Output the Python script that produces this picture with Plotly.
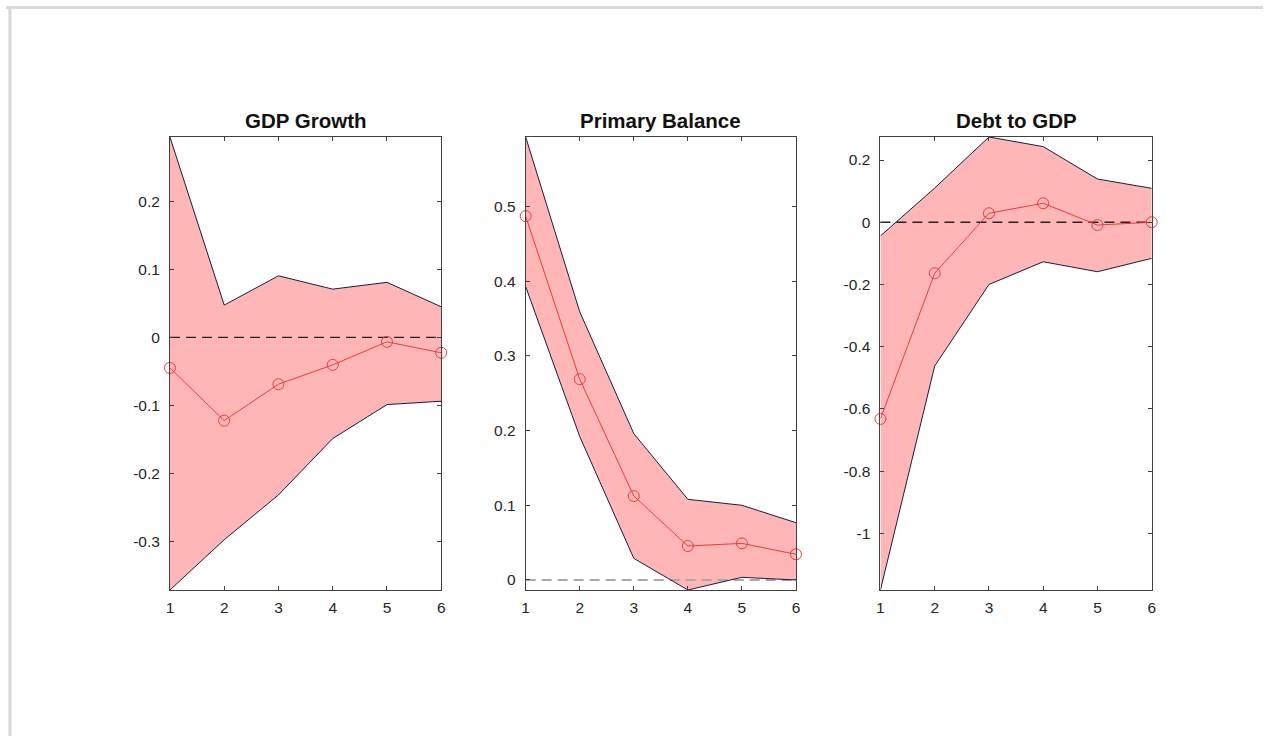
import plotly.graph_objects as go

# ---------------- data ----------------
horizon = [1, 2, 3, 4, 5, 6]
titles = ["GDP Growth", "Primary Balance", "Debt to GDP"]

gdp_mean = [-0.045, -0.1226, -0.069, -0.0405, -0.0066, -0.0227]
gdp_upper = [0.295, 0.0475, 0.0906, 0.071, 0.081, 0.045]
gdp_lower = [-0.372, -0.298, -0.232, -0.149, -0.099, -0.094]

pb_mean = [0.487, 0.2687, 0.1124, 0.0455, 0.049, 0.0344]
pb_upper = [0.593, 0.359, 0.196, 0.108, 0.100, 0.0767]
pb_lower = [0.3927, 0.192, 0.029, -0.0134, 0.0036, 0.0]

debt_mean = [-0.632, -0.164, 0.029, 0.061, -0.009, 0.0]
debt_upper = [-0.044, 0.11, 0.274, 0.243, 0.139, 0.109]
debt_lower = [-1.182, -0.462, -0.2, -0.127, -0.159, -0.116]

gdp_ticks = [-0.3, -0.2, -0.1, 0, 0.1, 0.2]
gdp_ticklabels = ["-0.3", "-0.2", "-0.1", "0", "0.1", "0.2"]
pb_ticks = [0, 0.1, 0.2, 0.3, 0.4, 0.5]
pb_ticklabels = ["0", "0.1", "0.2", "0.3", "0.4", "0.5"]
debt_ticks = [-1, -0.8, -0.6, -0.4, -0.2, 0, 0.2]
debt_ticklabels = ["-1", "-0.8", "-0.6", "-0.4", "-0.2", "0", "0.2"]
x_ticklabels = ["1", "2", "3", "4", "5", "6"]

panels = [
    (gdp_mean, gdp_upper, gdp_lower, gdp_ticks, gdp_ticklabels, "#222222", 1.2),
    (pb_mean, pb_upper, pb_lower, pb_ticks, pb_ticklabels, "#a8a8a8", 2.0),
    (debt_mean, debt_upper, debt_lower, debt_ticks, debt_ticklabels, "#222222", 1.4),
]

# ---------------- layout geometry (pixels) ----------------
W, H = 1267, 736
x_px = [(167, 440), (525, 797), (882, 1155)]
y_px = (137, 590)

FILL = "rgb(255,182,182)"
EDGE = "#1c1c3a"
RED = "rgb(232,60,60)"
AXC = "#404040"
FONT = "Liberation Sans, Arial, Helvetica, sans-serif"

fig = go.Figure()

for i, (mean, up, lo, yt, ytl, zc, zw) in enumerate(panels):
    xa = "x" if i == 0 else f"x{i+1}"
    ya = "y" if i == 0 else f"y{i+1}"
    # band fill
    fig.add_trace(go.Scatter(
        x=horizon + horizon[::-1], y=up + lo[::-1],
        fill="toself", fillcolor=FILL, mode="none",
        xaxis=xa, yaxis=ya, showlegend=False, hoverinfo="skip"))
    # zero line
    fig.add_trace(go.Scatter(
        x=[horizon[0], horizon[-1]], y=[0, 0], mode="lines",
        line=dict(color=zc, width=zw, dash="10px,6px"),
        xaxis=xa, yaxis=ya, showlegend=False, hoverinfo="skip"))
    # band edges
    for b in (up, lo):
        fig.add_trace(go.Scatter(
            x=horizon, y=b, mode="lines",
            line=dict(color=EDGE, width=1),
            xaxis=xa, yaxis=ya, showlegend=False, hoverinfo="skip"))
    # mean response
    fig.add_trace(go.Scatter(
        x=horizon, y=mean, mode="lines+markers",
        line=dict(color=RED, width=1),
        marker=dict(symbol="circle-open", size=11, color=RED, line=dict(width=1)),
        xaxis=xa, yaxis=ya, showlegend=False, cliponaxis=False))

    x0, x1 = x_px[i]
    xdom = [x0 / W, x1 / W]
    ydom = [(H - y_px[1]) / H, (H - y_px[0]) / H]
    axis_common = dict(
        showline=True, linecolor=AXC, linewidth=1, mirror="ticks",
        ticks="inside", ticklen=4, tickwidth=1, tickcolor=AXC,
        showgrid=False, zeroline=False,
        tickfont=dict(family=FONT, size=15.5, color="#262626"),
    )
    fig.layout[("xaxis" if i == 0 else f"xaxis{i+1}")] = dict(
        domain=xdom, anchor=ya, range=[horizon[0], horizon[-1]],
        tickvals=horizon, ticktext=x_ticklabels, ticklabelstandoff=3,
        **axis_common)
    fig.layout[("yaxis" if i == 0 else f"yaxis{i+1}")] = dict(
        domain=ydom, anchor=xa, range=[min(lo), max(up)],
        tickvals=yt, ticktext=ytl, ticklabelstandoff=6,
        **axis_common)
    fig.add_annotation(
        text=f"<b>{titles[i]}</b>", xref="paper", yref="paper",
        x=(x0 + x1) / 2 / W, y=(H - 121) / H, xanchor="center", yanchor="middle",
        showarrow=False, font=dict(family=FONT, size=20.5, color="#111111"))

# light grey frame of the original picture (top and left edges)
fig.add_shape(type="line", xref="paper", yref="paper",
              x0=2 / W, x1=1.0, y0=(H - 7.5) / H, y1=(H - 7.5) / H,
              line=dict(color="#d9d9d9", width=3))
fig.add_shape(type="line", xref="paper", yref="paper",
              x0=6 / W, x1=6 / W, y0=0, y1=(H - 6) / H,
              line=dict(color="#d9d9d9", width=3))

fig.update_layout(
    width=W, height=H, margin=dict(l=0, r=0, t=0, b=0),
    paper_bgcolor="white", plot_bgcolor="white",
    font=dict(family=FONT),
)

fig.write_html("out.html", config={"displayModeBar": False},
               post_script="document.body.style.margin='0';document.body.style.overflow='hidden';")
